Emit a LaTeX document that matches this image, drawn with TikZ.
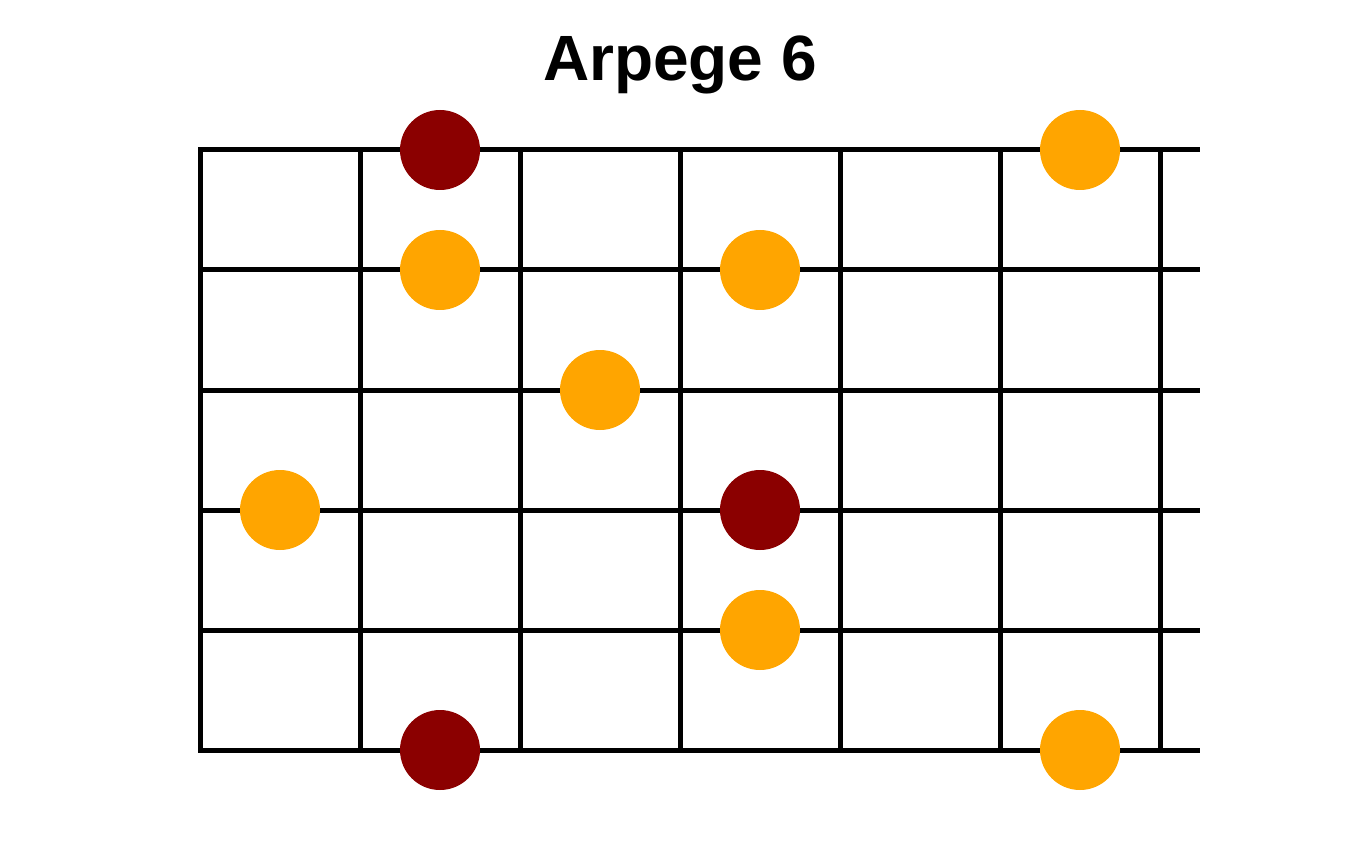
\documentclass[tikz,border=0pt]{standalone}
\usepackage{fontspec}
\setmainfont{Liberation Sans}
\definecolor{root}{HTML}{8B0000}
\definecolor{note}{HTML}{FFA500}
\begin{document}
\begin{tikzpicture}[x=1pt,y=-1pt,
  gridline/.style={line width=5pt,black},
  rootdot/.style={circle,fill=root,minimum size=80pt,inner sep=0pt},
  notedot/.style={circle,fill=note,minimum size=80pt,inner sep=0pt}]
\useasboundingbox (0,0) rectangle (1360,850);
\node[font=\bfseries\fontsize{64}{64}\selectfont,anchor=base] (title) at (680,81) {Arpege 6};
\foreach \y in {150,270,390,510,630,750} \draw[gridline] (198,\y) -- (1200,\y);
\foreach \x in {200,360,520,680,840,1000,1160} \draw[gridline] (\x,148) -- (\x,752);
\node[rootdot] (d1) at (440,150) {};
\node[notedot] (d2) at (1080,150) {};
\node[notedot] (d3) at (440,270) {};
\node[notedot] (d4) at (760,270) {};
\node[notedot] (d5) at (600,390) {};
\node[notedot] (d6) at (280,510) {};
\node[rootdot] (d7) at (760,510) {};
\node[notedot] (d8) at (760,630) {};
\node[rootdot] (d9) at (440,750) {};
\node[notedot] (d10) at (1080,750) {};
\end{tikzpicture}
\end{document}
